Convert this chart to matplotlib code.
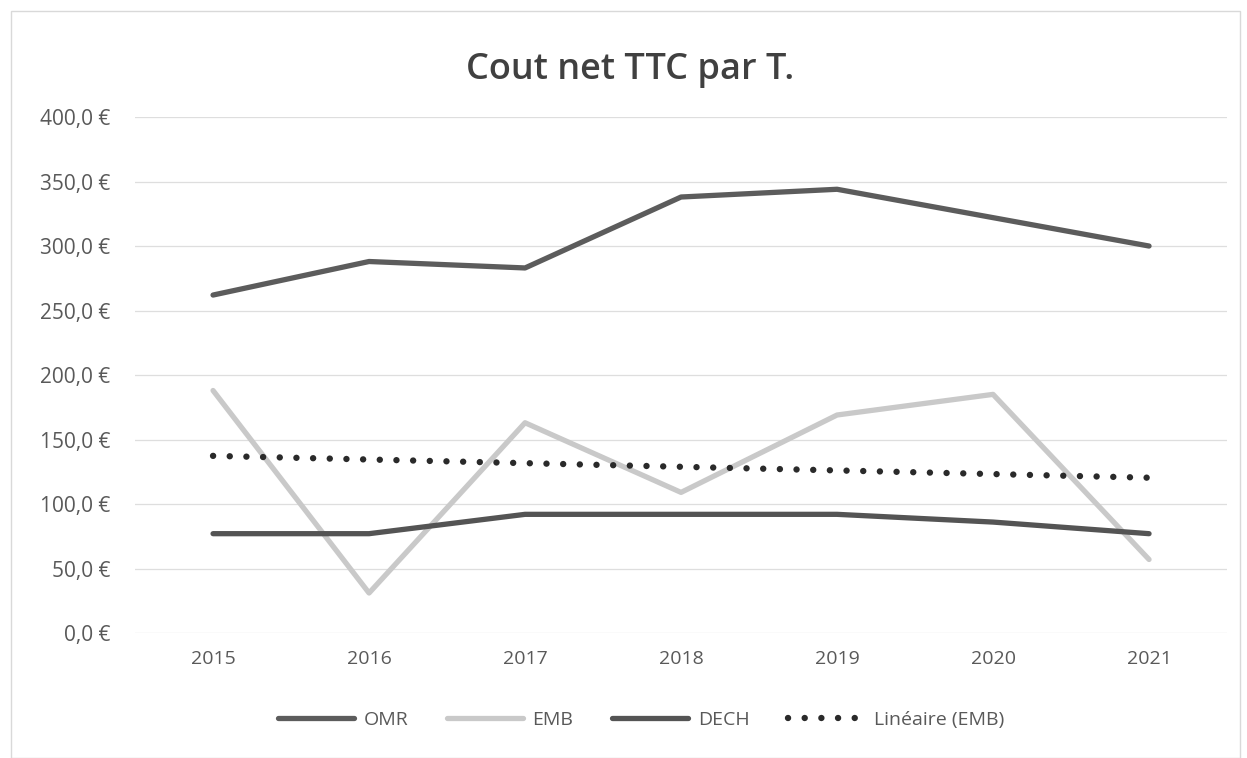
import numpy as np
import matplotlib
matplotlib.use("Agg")
import matplotlib.pyplot as plt
from matplotlib.ticker import FuncFormatter
from matplotlib.patches import Rectangle

plt.rcParams['font.family'] = ['Open Sans', 'DejaVu Sans']

years = [2015, 2016, 2017, 2018, 2019, 2020, 2021]
omr = [262, 288, 283, 338, 344, 322, 300]
emb = [188, 31, 163, 109, 169, 185, 57]
dech = [77, 77, 92, 92, 92, 86, 77]

x = np.arange(len(years))
# linear trend on EMB (like Excel "Linéaire")
coef = np.polyfit(x, emb, 1)
trend = np.polyval(coef, x)

fig = plt.figure(figsize=(12.47, 7.58), dpi=100)
ax = fig.add_axes([0.1083, 0.1649, 0.8757, 0.6807])

ax.plot(x, omr, color='#5c5c5c', lw=3.8, solid_capstyle='round', label='OMR', zorder=3)
ax.plot(x, emb, color='#c9c9c9', lw=3.8, solid_capstyle='round', label='EMB', zorder=3)
ax.plot(x, dech, color='#545454', lw=3.8, solid_capstyle='round', label='DECH', zorder=3)
ax.plot(x, trend, color='#2a2a2a', lw=4.6, linestyle=(0, (0.01, 2.6)),
        dash_capstyle='round', label='Linéaire (EMB)', zorder=4)

ax.set_xlim(-0.5, len(years) - 0.5)
ax.set_ylim(0, 400)
ax.set_yticks(np.arange(0, 401, 50))
ax.yaxis.set_major_formatter(FuncFormatter(lambda v, p: f"{v:.1f}".replace('.', ',') + ' €'))
ax.set_xticks(x)
ax.set_xticklabels([str(y) for y in years])
ax.grid(axis='y', color='#dedede', lw=0.9)
ax.set_axisbelow(True)
for s in ax.spines.values():
    s.set_visible(False)
ax.tick_params(length=0, labelsize=14, colors='#595959', pad=12)
ax.tick_params(axis='y', labelsize=15, pad=18)

fig.text(0.505, 0.908, 'Cout net TTC par T.', ha='center', va='center',
         fontsize=26, fontweight='semibold', color='#404040')

leg = fig.legend(loc='center', bbox_to_anchor=(0.514, 0.05), ncol=4, frameon=False,
                 fontsize=14, handlelength=3.9, columnspacing=2.0, handletextpad=0.5)
for t in leg.get_texts():
    t.set_color('#595959')

fig.patches.append(Rectangle((0.009, 0.0), 0.985, 0.985, transform=fig.transFigure,
                             fill=False, edgecolor='#d9d9d9', lw=1.0))

fig.savefig('out.png', dpi=100)
